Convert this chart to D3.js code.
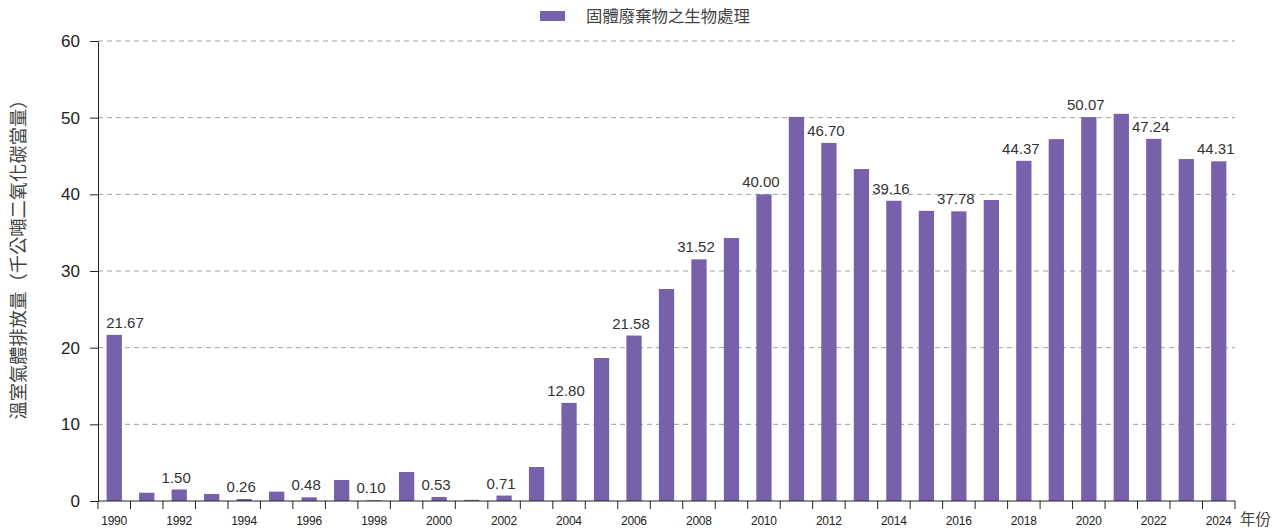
<!DOCTYPE html>
<html>
<head>
<meta charset="utf-8">
<script src="https://cdn.jsdelivr.net/npm/d3@7"></script>
<style>
    body { margin: 0; background: #fff; }
    text { font-family: "Liberation Sans", Arial, "Noto Sans CJK TC", sans-serif; }
</style>
</head>
<body>
<div id="chart"></div>
<script>
const years = d3.range(1990, 2025);
const values = [21.67, 1.08, 1.50, 0.92, 0.26, 1.22, 0.48, 2.74, 0.10, 3.78,
    0.53, 0.15, 0.71, 4.43, 12.80, 18.65, 21.58, 27.65, 31.52, 34.3,
    40.00, 50.1, 46.70, 43.3, 39.16, 37.85, 37.78, 39.26, 44.37, 47.2,
    50.07, 50.5, 47.24, 44.6, 44.31];
// years that carry a value label
const labelledYears = [1990, 1992, 1994, 1996, 1998, 2000, 2002, 2004, 2006, 2008,
    2010, 2012, 2014, 2016, 2018, 2020, 2022, 2024];
const yTicks = [0, 10, 20, 30, 40, 50, 60];
const seriesName = "固體廢棄物之生物處理";
const yTitle = "溫室氣體排放量（千公噸二氧化碳當量）";
const xTitle = "年份";
const barColor = "#7761ab";

const W = 1278, H = 531;
const margin = { top: 41, right: 43, bottom: 30, left: 98 };
const width = W - margin.left - margin.right;
const height = H - margin.top - margin.bottom;

const svg = d3.select("#chart").append("svg")
    .attr("width", W)
    .attr("height", H);

const g = svg.append("g")
    .attr("transform", `translate(${margin.left}, ${margin.top})`);

const x = d3.scaleBand().domain(years).range([0, width]).paddingInner(0.53).paddingOuter(0.265);
const y = d3.scaleLinear().domain([0, 60]).range([height, 0]);

// grid
g.append("g").selectAll("line")
    .data(yTicks.filter(d => d > 0))
    .join("line")
    .attr("x1", 0).attr("x2", width)
    .attr("y1", d => y(d)).attr("y2", d => y(d))
    .attr("stroke", "#a0a0a0")
    .attr("stroke-dasharray", "5,4");

// bars
g.append("g").selectAll("rect")
    .data(years.map((yr, i) => ({ yr, v: values[i] })))
    .join("rect")
    .attr("x", d => x(d.yr))
    .attr("width", x.bandwidth())
    .attr("y", d => y(d.v))
    .attr("height", d => height - y(d.v))
    .attr("fill", barColor);

// value labels
g.append("g").selectAll("text")
    .data(years.map((yr, i) => ({ yr, v: values[i] })).filter(d => labelledYears.includes(d.yr)))
    .join("text")
    .attr("x", d => {
        let cx = x(d.yr) + x.bandwidth() / 2 - 3;
        return Math.max(cx, 27);  // keep first label clear of the axis
    })
    .attr("y", d => y(d.v) - 7)
    .attr("text-anchor", "middle")
    .attr("font-size", 15)
    .attr("fill", "#333")
    .text(d => d.v.toFixed(2));

// y axis
const yAxis = g.append("g")
    .call(d3.axisLeft(y).tickValues(yTicks).tickSize(8).tickPadding(10).tickSizeOuter(0));
yAxis.select(".domain").attr("stroke", "#222");
yAxis.selectAll(".tick line").attr("stroke", "#222");
yAxis.selectAll("text").attr("font-size", 17).attr("fill", "#222")
    .attr("font-family", "'Liberation Sans', Arial, sans-serif");

// x axis: ticks at band boundaries, labels every other year
const xg = g.append("g").attr("transform", `translate(0, ${height})`);
xg.append("line").attr("x1", 0).attr("x2", width).attr("stroke", "#222");
const step = x.step();
xg.selectAll(".bt")
    .data(d3.range(years.length + 1))
    .join("line")
    .attr("class", "bt")
    .attr("x1", i => i * step).attr("x2", i => i * step)
    .attr("y1", 0).attr("y2", 8)
    .attr("stroke", "#222");
xg.selectAll(".xl")
    .data(years.filter(yr => (yr - 1990) % 2 === 0))
    .join("text")
    .attr("class", "xl")
    .attr("x", yr => x(yr) + x.bandwidth() / 2)
    .attr("y", 24)
    .attr("text-anchor", "middle")
    .attr("font-size", 12)
    .attr("fill", "#222")
    .attr("textLength", 26)
    .text(yr => yr);

xg.append("text")
    .attr("x", width + 5)
    .attr("y", 24)
    .attr("font-size", 15.5)
    .attr("fill", "#444")
    .text(xTitle);

// y title
svg.append("text")
    .attr("transform", `translate(25, ${margin.top + height / 2 - 16}) rotate(-90)`)
    .attr("text-anchor", "middle")
    .attr("font-size", 18.3)
    .attr("fill", "#444")
    .text(yTitle);

// legend
const legend = svg.append("g").attr("transform", "translate(540, 11)");
legend.append("rect").attr("width", 25).attr("height", 10).attr("fill", barColor);
legend.append("text")
    .attr("x", 46).attr("y", 11)
    .attr("font-size", 16.4)
    .attr("fill", "#444")
    .text(seriesName);
</script>
</body>
</html>
